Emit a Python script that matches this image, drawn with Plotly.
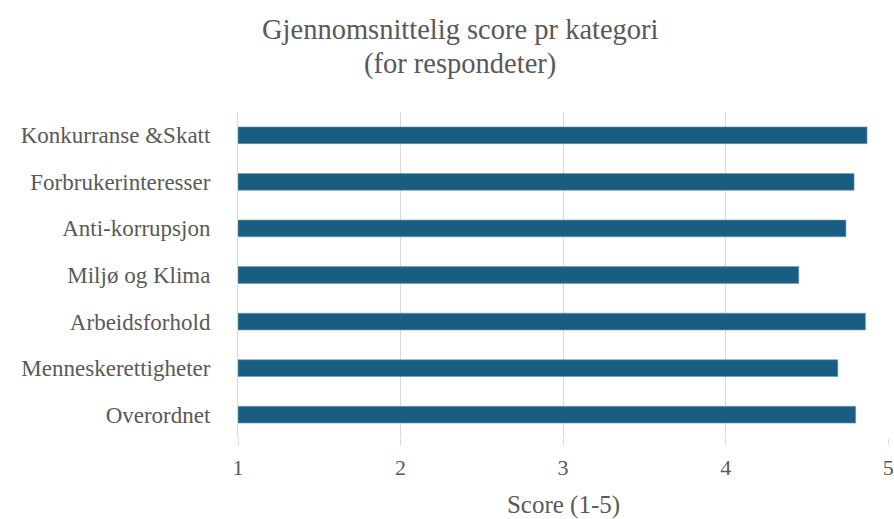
import plotly.graph_objects as go

categories = ["Konkurranse &Skatt", "Forbrukerinteresser", "Anti-korrupsjon",
              "Miljø og Klima", "Arbeidsforhold", "Menneskerettigheter", "Overordnet"]
scores = [4.87, 4.79, 4.74, 4.45, 4.86, 4.69, 4.80]
x_ticks = [1, 2, 3, 4, 5]
title_lines = ["Gjennomsnittelig score pr kategori", "(for respondeter)"]

FONT = "Liberation Serif, Times New Roman, serif"
GRAY = "#595959"

L, R, T, B = 238, 5, 112, 81
W, H = 894, 519
plot_h = H - T - B

fig = go.Figure(go.Bar(
    x=[v - 1 for v in scores], y=categories, orientation="h", base=1,
    marker=dict(color="#195E80", line=dict(color="#6f9bb3", width=0.6)),
    width=0.36,
))

def py(p):
    return (H - B - p) / plot_h

fig.update_layout(
    width=W, height=H,
    margin=dict(l=L, r=R, t=T, b=B, autoexpand=False),
    paper_bgcolor="white", plot_bgcolor="white",
    font=dict(family=FONT, color=GRAY, size=22),
    showlegend=False,
    annotations=[
        dict(text=title_lines[0], xref="paper", yref="paper",
             x=(460 - L) / (W - L - R), y=py(30), xanchor="center", yanchor="middle",
             showarrow=False, font=dict(size=28.5, color=GRAY, family=FONT)),
        dict(text=title_lines[1], xref="paper", yref="paper",
             x=(460 - L) / (W - L - R), y=py(64), xanchor="center", yanchor="middle",
             showarrow=False, font=dict(size=28.5, color=GRAY, family=FONT)),
    ],
)
fig.update_xaxes(
    range=[1, 5.005], tickvals=x_ticks, ticktext=[str(t) for t in x_ticks],
    showgrid=True, gridcolor="#D9D9D9", gridwidth=1,
    zeroline=False, showline=False, automargin=False,
    ticks="outside", ticklen=6, tickcolor="#D9D9D9", tickwidth=1,
    ticklabelstandoff=4,
    tickfont=dict(size=22, color=GRAY, family=FONT),
    title=dict(text="Score (1-5)", font=dict(size=25, color=GRAY, family=FONT), standoff=18),
)
fig.update_yaxes(
    autorange="reversed", showgrid=False, automargin=False,
    showline=True, linecolor="#D9D9D9", linewidth=1,
    ticks="outside", ticklen=22, tickcolor="rgba(0,0,0,0)",
    tickfont=dict(size=23, color=GRAY, family=FONT),
)
fig.write_html("out.html", config={"displayModeBar": False},
               post_script="document.body.style.margin='0';")
